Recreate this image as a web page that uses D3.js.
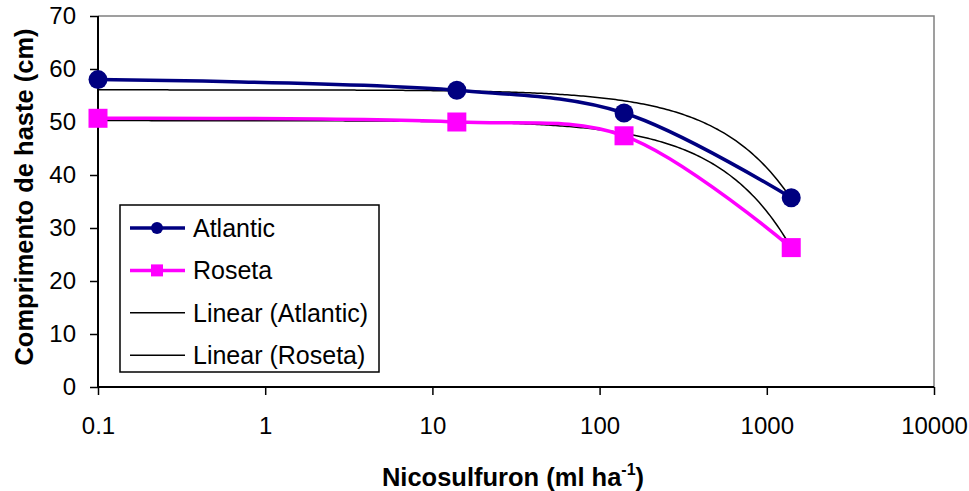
<!DOCTYPE html>
<html>
<head>
<meta charset="utf-8">
<script src="https://cdn.jsdelivr.net/npm/d3@7"></script>
<style>
  body { margin: 0; background: #fff; }
  text { font-family: Arial, "Liberation Sans", sans-serif; }
</style>
</head>
<body>
<script>
// Nicosulfuron dose (ml/ha) and stem length (cm)
const doses = [0.1, 14, 140, 1400];
const atlantic = [58, 56, 51.7, 35.7];
const roseta = [50.7, 50, 47.4, 26.3];
const xTicks = [0.1, 1, 10, 100, 1000, 10000];
const yTicks = [0, 10, 20, 30, 40, 50, 60, 70];

const w = 969, h = 491;
const margin = { top: 16, right: 35, bottom: 104, left: 98 };

const svg = d3.select("body").append("svg")
  .attr("width", w)
  .attr("height", h);

const x = d3.scaleLog().domain([0.1, 10000]).range([margin.left, w - margin.right]);
const y = d3.scaleLinear().domain([0, 70]).range([h - margin.bottom, margin.top]);

// plot area frame (top / right are grey)
svg.append("path")
  .attr("d", `M${x(0.1)},${y(70)}H${x(10000)}V${y(0)}`)
  .attr("fill", "none")
  .attr("stroke", "#808080")
  .attr("stroke-width", 1.5);

// axes
const xAxis = svg.append("g")
  .attr("transform", `translate(0,${y(0)})`)
  .call(d3.axisBottom(x).tickValues(xTicks).tickSize(8).tickPadding(22)
    .tickFormat(d => String(d)));
const yAxis = svg.append("g")
  .attr("transform", `translate(${x(0.1)},0)`)
  .call(d3.axisLeft(y).tickValues(yTicks).tickSize(8).tickPadding(14));

[xAxis, yAxis].forEach(g => {
  g.select(".domain").attr("stroke", "#000").attr("stroke-width", 2);
  g.selectAll(".tick line").attr("stroke", "#000").attr("stroke-width", 1.5);
  g.selectAll(".tick text").attr("font-size", 24).attr("fill", "#000")
    .attr("font-family", "Arial, 'Liberation Sans', sans-serif");
});
yAxis.select(".domain").attr("d", `M0,${y(70)}V${y(0)}`);
xAxis.select(".domain").attr("d", `M${x(0.1)},0H${x(10000)}`);

// linear trendlines (least squares in x, drawn on the log axis)
function linFit(xs, ys) {
  const mx = d3.mean(xs), my = d3.mean(ys);
  const b = d3.sum(xs, (v, i) => (v - mx) * (ys[i] - my)) / d3.sum(xs, v => (v - mx) ** 2);
  return { a: my - b * mx, b: b };
}
const samples = d3.range(0, 301).map(i =>
  Math.pow(10, Math.log10(doses[0]) + i / 300 * (Math.log10(doses[3]) - Math.log10(doses[0]))));

[atlantic, roseta].forEach(ys => {
  const f = linFit(doses, ys);
  svg.append("path")
    .datum(samples)
    .attr("fill", "none")
    .attr("stroke", "#000")
    .attr("stroke-width", 1.5)
    .attr("d", d3.line().x(d => x(d)).y(d => y(f.a + f.b * d)));
});

const line = d3.line()
  .x(d => x(d[0]))
  .y(d => y(d[1]))
  .curve(d3.curveCatmullRom.alpha(0.5));

// Atlantic
svg.append("path")
  .datum(doses.map((d, i) => [d, atlantic[i]]))
  .attr("fill", "none").attr("stroke", "#000080").attr("stroke-width", 3.5)
  .attr("d", line);
svg.append("g").selectAll("circle")
  .data(doses.map((d, i) => [d, atlantic[i]]))
  .enter().append("circle")
  .attr("cx", d => x(d[0])).attr("cy", d => y(d[1])).attr("r", 9.5)
  .attr("fill", "#000080");

// Roseta
svg.append("path")
  .datum(doses.map((d, i) => [d, roseta[i]]))
  .attr("fill", "none").attr("stroke", "#ff00ff").attr("stroke-width", 3.5)
  .attr("d", line);
svg.append("g").selectAll("rect")
  .data(doses.map((d, i) => [d, roseta[i]]))
  .enter().append("rect")
  .attr("x", d => x(d[0]) - 9.5).attr("y", d => y(d[1]) - 9.5)
  .attr("width", 19).attr("height", 19)
  .attr("fill", "#ff00ff");

// legend
const legend = svg.append("g").attr("id", "legend");
legend.append("rect")
  .attr("x", 120).attr("y", 205).attr("width", 259).attr("height", 167)
  .attr("fill", "#fff").attr("stroke", "#000").attr("stroke-width", 1.5);

const items = [
  { name: "Atlantic", color: "#000080", w: 3.5, mark: "circle" },
  { name: "Roseta", color: "#ff00ff", w: 3.5, mark: "square" },
  { name: "Linear (Atlantic)", color: "#000", w: 1.5, mark: null },
  { name: "Linear (Roseta)", color: "#000", w: 1.5, mark: null }
];
items.forEach((it, i) => {
  const cy = 228 + i * 42.4;
  const g = legend.append("g");
  g.append("line").attr("x1", 130).attr("x2", 185).attr("y1", cy).attr("y2", cy)
    .attr("stroke", it.color).attr("stroke-width", it.w);
  if (it.mark === "circle") {
    g.append("circle").attr("cx", 157).attr("cy", cy).attr("r", 6).attr("fill", it.color);
  } else if (it.mark === "square") {
    g.append("rect").attr("x", 151).attr("y", cy - 6).attr("width", 12).attr("height", 12)
      .attr("fill", it.color);
  }
  g.append("text").attr("x", 193).attr("y", cy + 9)
    .attr("font-size", 25).attr("fill", "#000").text(it.name);
});

// axis titles
svg.append("text")
  .attr("transform", "translate(33,197) rotate(-90)")
  .attr("text-anchor", "middle")
  .attr("font-size", 25.5).attr("font-weight", "bold")
  .text("Comprimento de haste (cm)");

const xt = svg.append("text")
  .attr("x", 513).attr("y", 486)
  .attr("text-anchor", "middle")
  .attr("font-size", 25.5).attr("font-weight", "bold");
xt.append("tspan").text("Nicosulfuron (ml ha");
xt.append("tspan").attr("font-size", 16).attr("dy", -11).text("-1");
xt.append("tspan").attr("dy", 11).text(")");
</script>
</body>
</html>
